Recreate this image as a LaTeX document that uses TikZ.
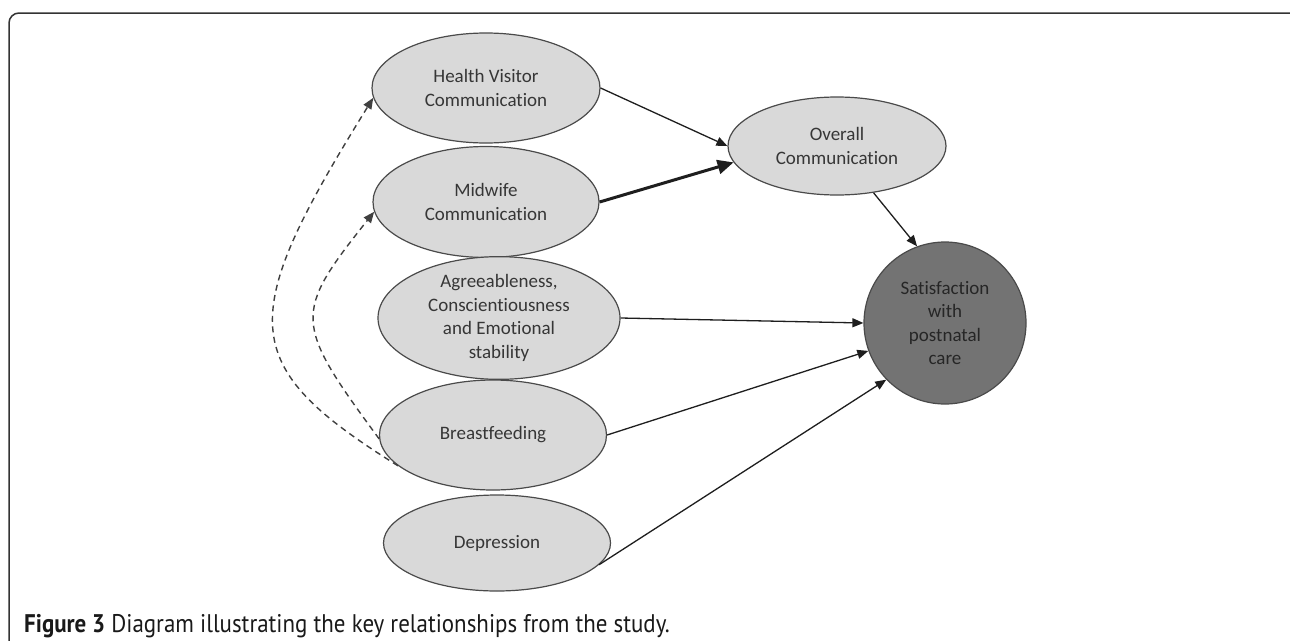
\documentclass[tikz,border=0pt]{standalone}
\usepackage{fontspec}
\setmainfont{Carlito}[Ligatures=NoCommon]
\newfontfamily\capfont[FakeStretch=0.9]{PT Sans}
\usetikzlibrary{shapes.geometric,arrows.meta}
\definecolor{ellfill}{HTML}{D9D9D9}
\definecolor{ellline}{HTML}{4A4A4A}
\definecolor{elltext}{HTML}{363636}
\definecolor{satfill}{HTML}{737373}
\definecolor{sattext}{HTML}{262626}
\definecolor{arrcol}{HTML}{1E1E1E}
\definecolor{dashcol}{HTML}{404040}
\definecolor{framecol}{HTML}{333333}
\tikzset{
  ell/.style={ellipse, draw=ellline, fill=ellfill, line width=1.2pt, inner sep=0pt,
    align=center, text=elltext, font=\fontsize{19}{23.5}\selectfont},
  satnode/.style={circle, draw=ellline, fill=satfill, line width=1.2pt, inner sep=0pt,
    minimum size=162pt, align=center, text=sattext, font=\fontsize{19}{23.5}\selectfont},
  link/.style={draw=arrcol, line width=1.3pt, -{Triangle[length=11pt,width=9pt]}},
  boldlink/.style={draw=arrcol, line width=3pt, -{Triangle[length=16pt,width=14pt]}},
  dashlink/.style={draw=dashcol, line width=1.4pt, dash pattern=on 6pt off 4.5pt,
    -{Triangle[length=11pt,width=9pt]}},
}
\begin{document}
\begin{tikzpicture}[x=1pt,y=-1pt]
\useasboundingbox (0,0) rectangle (1290,640);
\clip (0,0) rectangle (1290,640);
\fill[white] (0,0) rectangle (1290,640);
\draw[framecol, line width=1.5pt, rounded corners=10pt] (9,660) -- (9,13) -- (1299,13) -- (1299,660);

\node[ell, minimum width=228pt, minimum height=110pt] (hv) at (486,88) {Health Visitor\\Communication};
\node[ell, minimum width=226pt, minimum height=111pt] (mw) at (486,202) {Midwife\\Communication};
\node[ell, minimum width=242pt, minimum height=110pt] (ag) at (499,318) {Agreeableness,\\Conscientiousness\\and Emotional\\stability};
\node[ell, minimum width=227pt, minimum height=110pt] (bf) at (493,435) {Breastfeeding};
\node[ell, minimum width=227pt, minimum height=96pt] (dp) at (497,543) {Depression};
\node[ell, minimum width=218pt, minimum height=98pt] (ov) at (837,146) {Overall\\Communication};
\node[satnode] (sat) at (945,323) {Satisfaction\\with\\postnatal\\care};

\draw[link] (hv.east) -- (ov.180);
\draw[boldlink] (mw.east) -- (ov.189);
\draw[link] (ov.-52) -- (sat.110);
\draw[link] (ag.east) -- (sat.180);
\draw[link] (bf.east) -- (sat.200);
\draw[link] (dp.-12) -- (sat.224);

\draw[dashlink] (bf.198) .. controls (236,365) and (236,319) .. (hv.185);
\draw[dashlink] (bf.182) .. controls (293,322) and (293,314) .. (mw.185);

\node[anchor=base west, inner sep=0pt, text=black!90, font=\capfont\fontsize{25.5}{30}\selectfont] (cap) at (24,632)
  {\textbf{Figure 3} Diagram illustrating the key relationships from the study.};
\end{tikzpicture}
\end{document}
